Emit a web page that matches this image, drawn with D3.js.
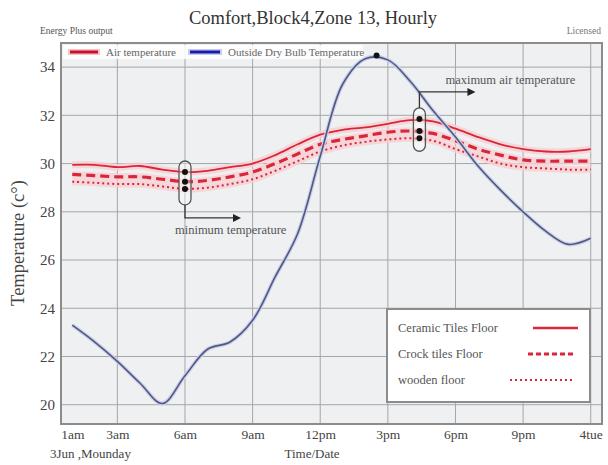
<!DOCTYPE html>
<html><head><meta charset="utf-8">
<script src="https://cdn.jsdelivr.net/npm/d3@7"></script>
<style>
body{margin:0;background:#fff;}
text{font-family:"Liberation Serif","DejaVu Serif",serif;}
</style></head>
<body><svg id="c" width="608" height="465"></svg>
<script>
// ---- data ----
const hours = [1,2,3,4,5,6,7,8,9,10,11,12,13,14,15,16,17,18,19,20,21,22,23,24];
const outsideDryBulb = [23.3,22.6,21.8,20.9,20.05,21.2,22.3,22.6,23.5,25.3,27.1,30.3,33.3,34.35,34.3,33.4,32.2,31.1,29.9,28.9,28.0,27.2,26.65,26.9];
const ceramicTiles = [29.95,29.95,29.85,29.9,29.75,29.65,29.7,29.85,30.0,30.35,30.8,31.2,31.4,31.5,31.65,31.8,31.75,31.45,31.1,30.8,30.6,30.5,30.5,30.6];
const crockTiles   = [29.55,29.5,29.45,29.45,29.35,29.25,29.3,29.45,29.65,30.0,30.4,30.8,31.0,31.15,31.3,31.35,31.25,30.95,30.6,30.35,30.15,30.1,30.1,30.1];
const woodenFloor  = [29.25,29.2,29.15,29.15,29.05,28.95,29.0,29.15,29.35,29.7,30.1,30.5,30.75,30.9,31.0,31.05,30.95,30.6,30.3,30.0,29.85,29.8,29.75,29.75];
const tickHours  = [1,3,6,9,12,15,18,21,24];
const tickLabels = ["1am","3am","6am","9am","12pm","3pm","6pm","9pm","4tue"];
const yTicks = [20,22,24,26,28,30,32,34];
const peakPoint = {hour:14.5, value:34.48};
const minMarker = {hour:6, values:[29.65,29.25,28.95], label:"minimum temperature"};
const maxMarker = {hour:16.4, values:[31.85,31.35,31.05], label:"maximum air temperature"};
const floorNames = ["Ceramic Tiles Floor","Crock tiles Floor","wooden floor"];

// ---- layout ----
const svg = d3.select("#c");
const L=61, R=602, T=43, B=424;
const x = d3.scaleLinear().domain([0.5,24.5]).range([L,R]);
const y = d3.scaleLinear().domain([19.2,35]).range([B,T]);
const textCol="#444";

// titles
svg.append("text").attr("x",313).attr("y",24).attr("text-anchor","middle")
  .attr("font-size",18.5).attr("fill","#333").text("Comfort,Block4,Zone 13, Hourly");
svg.append("text").attr("x",40).attr("y",34).attr("font-size",9.5).attr("fill","#555").text("Energy Plus output");
svg.append("text").attr("x",601).attr("y",34).attr("text-anchor","end").attr("font-size",9.5).attr("fill","#777").text("Licensed");

// plot background
svg.append("rect").attr("x",L).attr("y",T).attr("width",R-L).attr("height",B-T).attr("fill","#eff0f1");

// grid
const g = svg.append("g");
g.selectAll(".hg").data(yTicks).join("line").attr("x1",L).attr("x2",R)
  .attr("y1",d=>y(d)).attr("y2",d=>y(d)).attr("stroke","#a4a6a8").attr("stroke-width",1);
g.selectAll(".vg").data(tickHours.slice(1)).join("line").attr("y1",T).attr("y2",B)
  .attr("x1",d=>x(d)).attr("x2",d=>x(d)).attr("stroke","#a4a6a8").attr("stroke-width",1);

// top legend background (under the data)
svg.append("rect").attr("x",63).attr("y",45).attr("width",300).attr("height",14).attr("fill","#fff").attr("opacity",0.85);

// axes
const ya = svg.append("g").attr("transform",`translate(${L},0)`)
  .call(d3.axisLeft(y).tickValues(yTicks).tickSize(0).tickPadding(6));
ya.select(".domain").remove();
ya.selectAll("text").attr("font-size",15).attr("fill",textCol).attr("font-family","Liberation Serif");
const xa = svg.append("g").attr("transform",`translate(0,${B})`)
  .call(d3.axisBottom(x).tickValues(tickHours).tickFormat((d,i)=>tickLabels[i]).tickSize(0).tickPadding(5));
xa.select(".domain").remove();
xa.selectAll("text").attr("font-size",13.5).attr("fill",textCol).attr("font-family","Liberation Serif");

svg.append("text").attr("transform","translate(24,243) rotate(-90)").attr("text-anchor","middle")
  .attr("font-size",18.5).attr("fill",textCol).text("Temperature (c°)");
svg.append("text").attr("x",50).attr("y",458).attr("font-size",13).attr("fill",textCol).text("3Jun ,Mounday");
svg.append("text").attr("x",312).attr("y",458).attr("text-anchor","middle").attr("font-size",13).attr("fill",textCol).text("Time/Date");

// lines
const line = d3.line().x((d,i)=>x(hours[i])).y(d=>y(d)).curve(d3.curveCatmullRom.alpha(0.5));
const floors = [
  {v:ceramicTiles, w:1.8, dash:null},
  {v:crockTiles, w:3.2, dash:"9,5"},
  {v:woodenFloor, w:2, dash:"2,3"}
];
floors.forEach(f=>{
  svg.append("path").attr("d",line(f.v)).attr("fill","none").attr("stroke","#f8cfd3").attr("stroke-width",7).attr("opacity",0.8);
});
floors.forEach(f=>{
  svg.append("path").attr("d",line(f.v)).attr("fill","none").attr("stroke","#d9263a")
    .attr("stroke-width",f.w).attr("stroke-dasharray",f.dash);
});
svg.append("path").attr("d",line(outsideDryBulb)).attr("fill","none").attr("stroke","#cdd1e8").attr("stroke-width",4);
svg.append("path").attr("d",line(outsideDryBulb)).attr("fill","none").attr("stroke","#4f5886").attr("stroke-width",1.6);
svg.append("circle").attr("cx",x(peakPoint.hour)).attr("cy",y(peakPoint.value)).attr("r",3).attr("fill","#111");

// markers
function marker(m, up){
  const cx = x(m.hour);
  const ys = m.values.map(v=>y(v));
  const top = d3.min(ys)-11, bot = d3.max(ys)+(up?13:16);
  svg.append("rect").attr("x",cx-6).attr("y",top).attr("width",12).attr("height",bot-top)
    .attr("rx",6).attr("fill","rgba(255,255,255,0.35)").attr("stroke","#555").attr("stroke-width",1.3);
  svg.selectAll(null).data(m.values).join("circle").attr("cx",cx).attr("cy",d=>y(d)).attr("r",3).attr("fill","#111");
  const ay = up ? top-16 : bot+13;
  svg.append("path").attr("d",`M${cx},${up?top:bot}V${ay}H${cx+50}`).attr("fill","none").attr("stroke","#333").attr("stroke-width",1.3);
  svg.append("path").attr("d",`M${cx+56},${ay}l-8,-4v8z`).attr("fill","#222");
}
marker(minMarker,false);
marker(maxMarker,true);
svg.append("text").attr("x",x(minMarker.hour)-10).attr("y",234).attr("font-size",12.5).attr("fill","#555").text(minMarker.label);
svg.append("text").attr("x",x(maxMarker.hour)+26).attr("y",84).attr("font-size",12.5).attr("fill","#555").text(maxMarker.label);

// frame
svg.append("rect").attr("x",L).attr("y",T).attr("width",R-L).attr("height",B-T).attr("fill","none")
  .attr("stroke","#8c8c8c").attr("stroke-width",2);

// top legend
const tl = svg.append("g");
tl.append("line").attr("x1",68).attr("x2",100).attr("y1",52).attr("y2",52).attr("stroke","#f6c3c7").attr("stroke-width",6);
tl.append("line").attr("x1",70).attr("x2",98).attr("y1",52).attr("y2",52).attr("stroke","#c8102e").attr("stroke-width",3);
tl.append("text").attr("x",106).attr("y",56).attr("font-size",11).attr("fill","#666").text("Air temperature");
tl.append("line").attr("x1",188).attr("x2",222).attr("y1",52).attr("y2",52).attr("stroke","#c7cbf0").attr("stroke-width",6);
tl.append("line").attr("x1",190).attr("x2",220).attr("y1",52).attr("y2",52).attr("stroke","#1a1aa8").attr("stroke-width",3);
tl.append("text").attr("x",228).attr("y",56).attr("font-size",11).attr("fill","#666").text("Outside Dry Bulb Temperature");

// bottom legend
const bl = svg.append("g");
bl.append("rect").attr("x",387).attr("y",309).attr("width",203).attr("height",93).attr("fill","#fff")
  .attr("stroke","#8c8c8c").attr("stroke-width",2);
const swX = [[533,578],[528,573],[510,575]];
floorNames.forEach((n,i)=>{
  const yy = 328 + i*26;
  bl.append("text").attr("x",398).attr("y",yy+4).attr("font-size",12.5).attr("fill","#555").text(n);
  bl.append("line").attr("x1",swX[i][0]).attr("x2",swX[i][1]).attr("y1",yy).attr("y2",yy)
    .attr("stroke","#d9263a").attr("stroke-width",floors[i].w+ (i==0?0.7:0)).attr("stroke-dasharray",i==1?"5,3":floors[i].dash);
});
</script></body></html>
